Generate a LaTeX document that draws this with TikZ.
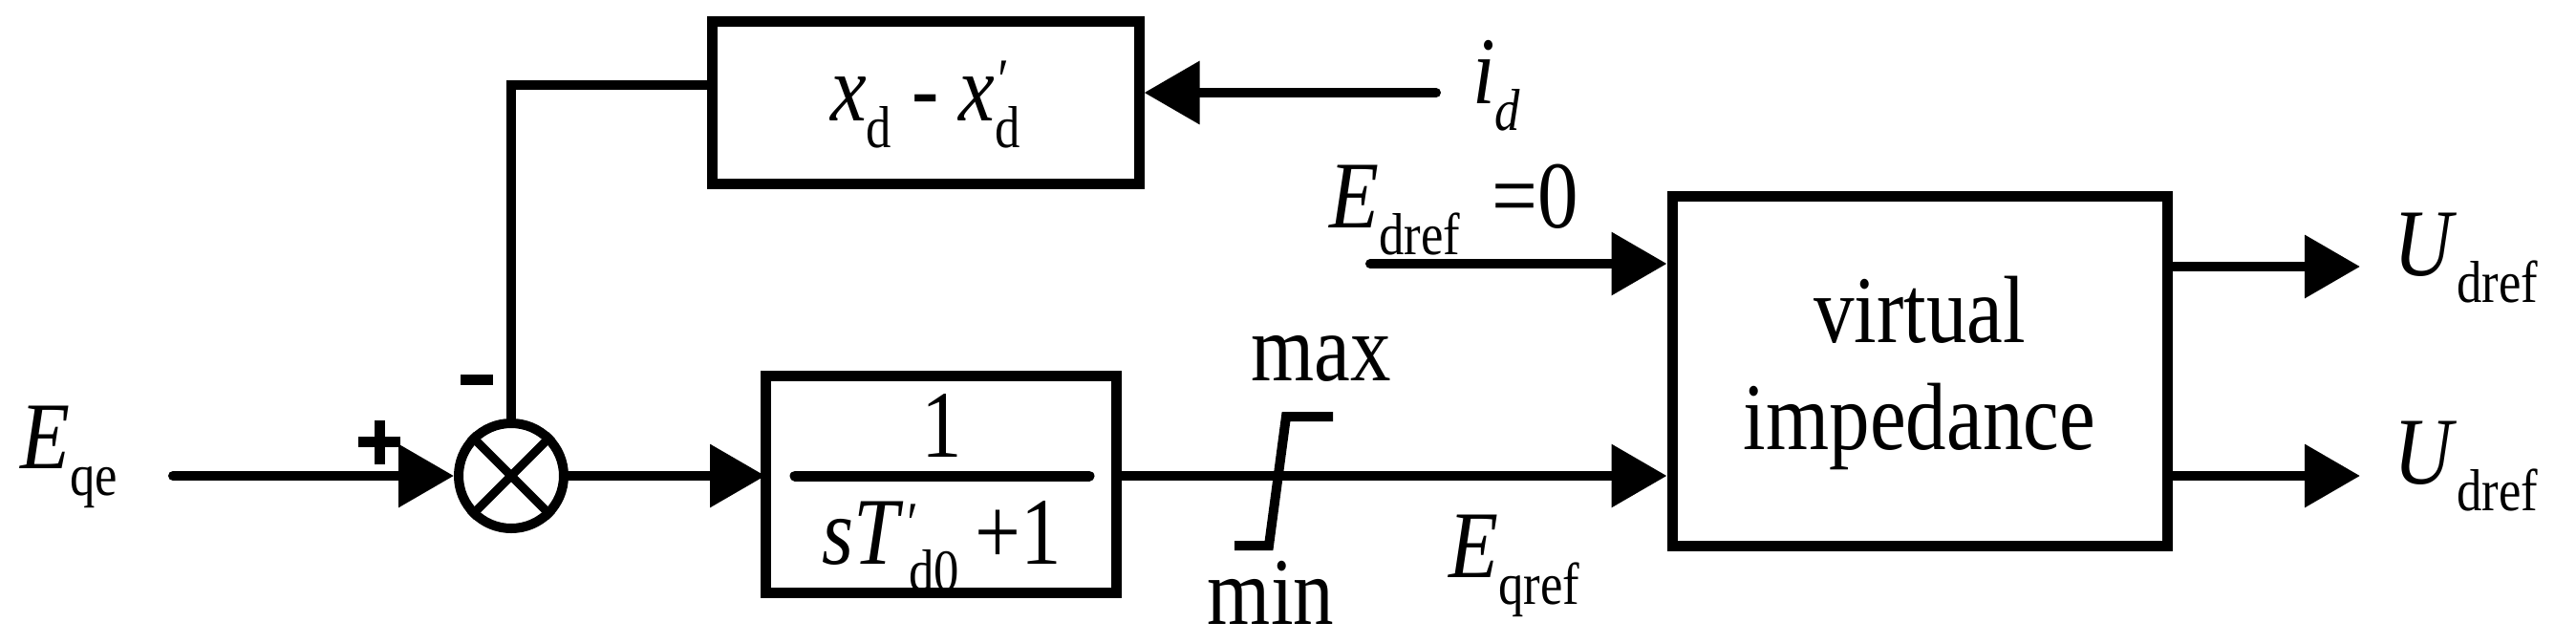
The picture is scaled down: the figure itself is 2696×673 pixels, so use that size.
\documentclass[tikz,border=0pt]{standalone}
\usepackage{fontspec}
\setmainfont[FakeStretch=0.85]{Liberation Serif}
\usetikzlibrary{arrows.meta}
\newcommand\sbx[1]{\raisebox{-0.28em}{\fontsize{62}{62}\selectfont #1}}
\newcommand\prm{\rlap{\raisebox{0.22em}{\fontsize{62}{62}\selectfont\textit{′}}}}
\begin{document}
\begin{tikzpicture}[x=1pt,y=-1pt,
  wire/.style={line width=10pt},
  arr/.style={wire,-{Triangle[length=58pt,width=64pt]}},
  blk/.style={draw,line width=11pt,minimum width=#1,inner sep=0pt},
  lbl/.style={font=\fontsize{100}{104}\selectfont,inner sep=0pt}]
\useasboundingbox (0,0) rectangle (2696,673);
\node[blk=447pt,minimum height=170pt] (b1) at (968.5,107) {};
\node[lbl] at (968.5,109) {\textit{x}\sbx{d} - \textit{x}\prm\sbx{d}};
\node[draw,circle,line width=10pt,minimum size=110pt,inner sep=0pt] (s) at (535,498) {};
\draw[line width=9pt] (s.45)--(s.225) (s.135)--(s.315);
\node[blk=367pt,minimum height=227pt] (b2) at (984.5,506.5) {};
\coordinate (b2in) at (801,498);
\coordinate (b2out) at (1168,498);
\draw[line width=11pt,line cap=round] (832,498)--(1140,498);
\node[lbl] at (986,445) {1};
\node[lbl] at (986,572) {\textit{sT}\prm\hspace{0.05em}\sbx{d0}\,+1};
\node[blk=518pt,minimum height=366pt] (b3) at (2009,388) {};
\node[lbl,align=center,font=\fontsize{100}{112}\selectfont] at (2009,390) {virtual\\impedance};
\coordinate (ein) at (181,498);
\coordinate (id) at (1503,97);
\coordinate (ed) at (1434,276);
\coordinate (o1) at (2470,279);
\coordinate (o2) at (2470,498);
\draw[arr,line cap=round] (ein) -- (s.west);
\draw[arr] (s.east) -- (b2in);
\draw[wire] (b2out) -- (1500,498);
\draw[arr] (1500,498) -- (b3.west |- s);
\draw[wire,line join=miter] (1292,571)--(1328,571)--(1346,436)--(1395,436);
\draw[arr,line cap=round] (id) -- (b1.east |- id);
\draw[arr,line cap=round] (ed) -- (b3.west |- ed);
\draw[arr] (b3.east |- o1) -- (o1);
\draw[arr] (b3.east |- o2) -- (o2);
\draw[wire,line join=miter] (s.north) -- (535,89) -- (b1.west |- 0,89);
\node[lbl,anchor=west] at (21,478) {\textit{E}\sbx{qe}};
\draw[line width=11pt] (375,462)--(419,462) (397,440)--(397,486);
\draw[line width=11pt] (482,397)--(516,397);
\node[lbl,anchor=west] at (1541,90) {\textit{i}\raisebox{-0.28em}{\fontsize{62}{62}\selectfont\textit{d}}};
\node[lbl,anchor=west] at (1391,220) {\textit{E}\sbx{dref}\,\,=0};
\node[lbl,anchor=west] at (1516,592) {\textit{E}\sbx{qref}};
\node[lbl,anchor=west] at (2505,270) {\textit{U}\sbx{dref}};
\node[lbl,anchor=west] at (2505,488) {\textit{U}\sbx{dref}};
\node[lbl] at (1383,375) {max};
\node[lbl] at (1330,620) {min};
\end{tikzpicture}
\end{document}
